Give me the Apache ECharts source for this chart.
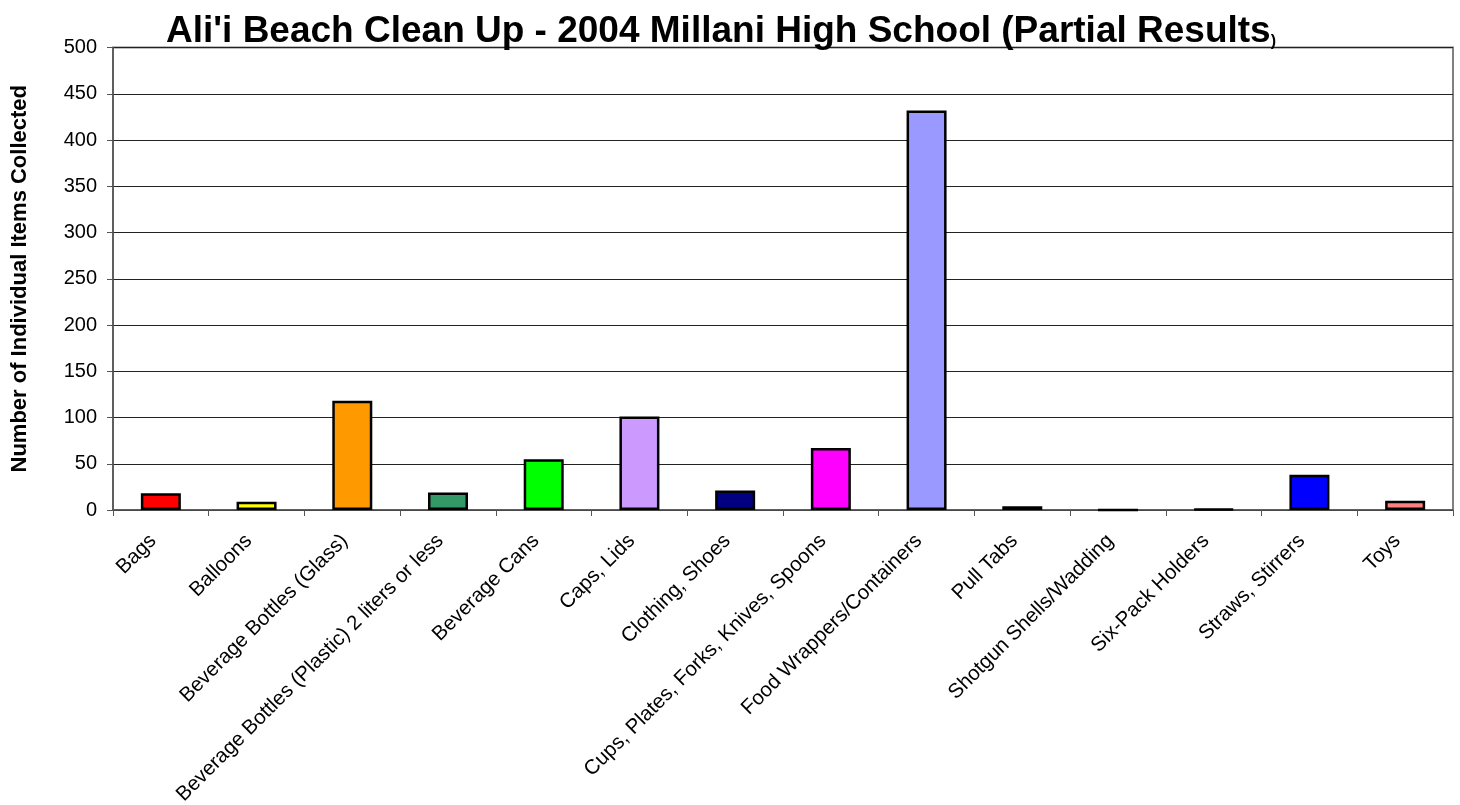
<!DOCTYPE html>
<html>
<head>
<meta charset="utf-8">
<script src="https://cdn.jsdelivr.net/npm/echarts@6/dist/echarts.min.js"></script>
<style>
  html, body { margin: 0; padding: 0; background: #fff; }
  #chart { width: 1460px; height: 805px; }
</style>
</head>
<body>
<div id="chart"></div>
<script>
const categories = [
  'Bags', 'Balloons', 'Beverage Bottles (Glass)', 'Beverage Bottles (Plastic) 2 liters or less',
  'Beverage Cans', 'Caps, Lids', 'Clothing, Shoes', 'Cups, Plates, Forks, Knives, Spoons',
  'Food Wrappers/Containers', 'Pull Tabs', 'Shotgun Shells/Wadding', 'Six-Pack Holders',
  'Straws, Stirrers', 'Toys'
];
const itemCounts = [18, 9, 118, 19, 55, 101, 21, 67, 432, 4, 0, 1, 38, 10];
const barColors = [
  '#ff0000', '#ffff00', '#ff9900', '#339966', '#00ff00', '#cc99ff', '#000080',
  '#ff00ff', '#9999ff', '#33cccc', '#993366', '#800000', '#0000ff', '#ff8080'
];
const yTicks = { min: 0, max: 500, step: 50 };

const chart = echarts.init(document.getElementById('chart'));

const font = 'Liberation Sans, Arial';

const option = {
  animation: false,
  title: {
    text: "{main|Ali'i Beach Clean Up - 2004 Millani High School (Partial Results}{small|)}",
    left: 716,
    textAlign: 'center',
    top: 8,
    textStyle: {
      rich: {
        main: { fontFamily: font, fontWeight: 'bold', fontSize: 37, color: '#000' },
        small: { fontFamily: font, fontWeight: 'bold', fontSize: 16, color: '#000', verticalAlign: 'bottom', padding: [18, 0, 0, 0] }
      }
    }
  },
  grid: {
    left: 113, right: 7, top: 47.5, bottom: 295,
    outerBoundsMode: 'none',
    show: true, borderColor: '#808080', borderWidth: 2
  },
  xAxis: {
    type: 'category',
    data: categories,
    axisLine: { lineStyle: { color: '#555', width: 1.5 } },
    axisTick: { show: true, length: 6, lineStyle: { color: '#555' } },
    axisLabel: {
      rotate: 45,
      interval: 0,
      margin: 20,
      padding: [0, 11, 0, 0],
      fontFamily: font,
      fontSize: 20.5,
      color: '#000'
    }
  },
  yAxis: {
    type: 'value',
    min: yTicks.min,
    max: yTicks.max,
    interval: yTicks.step,
    name: 'Number of Individual Items Collected',
    nameLocation: 'middle',
    nameGap: 82,
    nameTextStyle: { fontFamily: font, fontWeight: 'bold', fontSize: 22, color: '#000' },
    axisLine: { show: true, lineStyle: { color: '#555', width: 1.5 } },
    axisTick: { show: true, length: 6, lineStyle: { color: '#555' } },
    axisLabel: { fontFamily: font, fontSize: 20, color: '#000', margin: 16 },
    splitLine: { lineStyle: { color: '#222', width: 1 } }
  },
  series: [{
    type: 'bar',
    data: itemCounts.map((v, i) => ({ value: v, itemStyle: { color: barColors[i] } })),
    barWidth: 40,
    itemStyle: { borderColor: '#000', borderWidth: 2.5 }
  }]
};

chart.setOption(option);
</script>
</body>
</html>
